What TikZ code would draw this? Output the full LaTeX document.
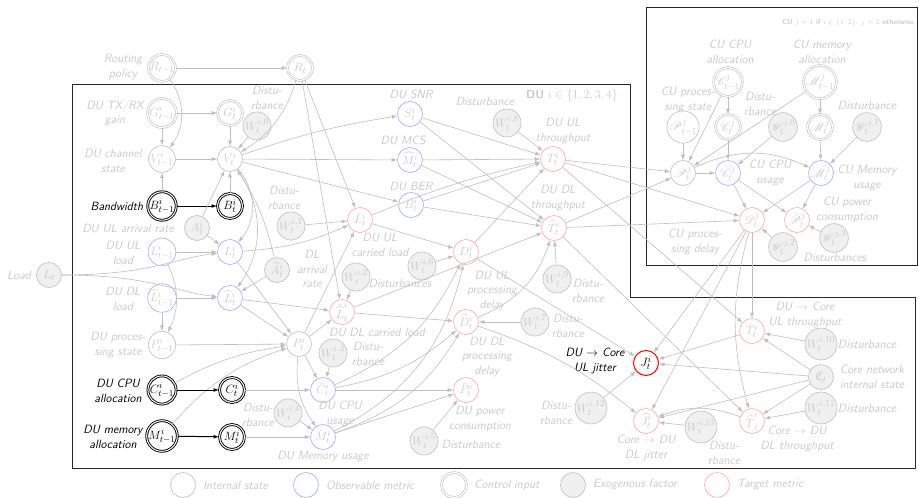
\documentclass[tikz,border=0pt]{standalone}
\usepackage{xcolor}
\usepackage{amssymb}
\usepackage{mathrsfs}
\usepackage{tikz}
\usetikzlibrary{arrows.meta,positioning}

\colorlet{faint}{gray!50}
\colorlet{faintText}{gray!42}
\colorlet{obsBlue}{blue!35}
\colorlet{tgtRed}{red!35}
\colorlet{exoFill}{gray!12}

\tikzset{
  var/.style={circle, draw=faint, minimum size=25pt, inner sep=0pt, text=faintText, line width=0.6pt, font=\fontsize{12.5}{13}\selectfont},
  obsvar/.style={var, draw=obsBlue},
  ctrlvar/.style={var, double, double distance=1.3pt},
  exovar/.style={var, fill=exoFill},
  tgtvar/.style={var, draw=tgtRed},
  keyctrl/.style={var, draw=black, text=black, line width=0.9pt, double, double distance=1pt},
  keytgt/.style={var, draw=red, text=black, line width=1pt},
  desc/.style={text=faintText, align=center, inner sep=1pt, font=\fontsize{12}{14.5}\selectfont\sffamily\itshape},
  keydesc/.style={desc, text=black},
  link/.style={draw=faint, line width=0.6pt, -{Latex[length=5.5pt,width=4pt]}},
  keylink/.style={draw=black, line width=1pt, -{Latex[length=5.5pt,width=4pt]}},
}

\begin{document}
\begin{tikzpicture}[x=1pt,y=-1pt]
\useasboundingbox (0,0) rectangle (919,498);

\draw[line width=0.9pt, black!85] (72,84) -- (630,84) -- (630,297) -- (915,297) -- (915,468) -- (72,468) -- cycle;
\draw[line width=0.9pt, black!85] (646,7) rectangle (917,265);
\node[text=faintText, font=\fontsize{11.5}{13}\selectfont\sffamily] (duTitle) at (572,95) {\textbf{DU} $i \in \{1,2,3,4\}$};
\node[text=faintText, font=\fontsize{7.2}{8}\selectfont\sffamily] (cuTitle) at (849,23) {\textbf{CU} $j=1$ \textbf{if} $i \in \{1,2\}$. $j=2$ \textbf{otherwise.}};

% DU variables
\node[ctrlvar] (r0) at (162,68) {$R_{t-1}$};
\node[ctrlvar] (r1) at (300,68) {$R_t$};
\node[ctrlvar] (g0) at (162,113) {$G^i_{t-1}$};
\node[ctrlvar] (g1) at (230,113) {$G^i_t$};
\node[var] (v0) at (162,159) {$V^i_{t-1}$};
\node[var] (v1) at (230,159) {$V^i_t$};
\node[exovar] (w0) at (257,126) {$W^{i,0}_t$};
\node[keyctrl] (b0) at (162,206) {$B^i_{t-1}$};
\node[keyctrl] (b1) at (230,206) {$B^i_t$};
\node[exovar] (a1) at (197,228) {$A^i_t$};
\node[obsvar] (l0) at (162,252) {$L^i_{t-1}$};
\node[obsvar] (l1) at (230,252) {$L^i_t$};
\node[exovar] (load) at (49,275) {$L_t$};
\node[obsvar] (hl0) at (162,298) {$\widehat{L}^i_{t-1}$};
\node[obsvar] (hl1) at (230,298) {$\widehat{L}^i_t$};
\node[exovar] (ha1) at (277,270) {$\widehat{A}^i_t$};
\node[exovar] (w1) at (291,226) {$W^{i,1}_t$};
\node[tgtvar] (bl1) at (360,220) {$\bar{L}^i_t$};
\node[tgtvar] (bhl1) at (342,312) {$\bar{\widehat{L}}^i_t$};
\node[exovar] (w2) at (356,277) {$W^{i,2}_t$};
\node[var] (p0) at (162,345) {$P^i_{t-1}$};
\node[var] (p1) at (299,344) {$P^i_t$};
\node[exovar] (w3) at (333,353) {$W^{i,3}_t$};
\node[keyctrl] (c0) at (162,390) {$C^i_{t-1}$};
\node[keyctrl] (c1) at (232,390) {$C^i_t$};
\node[obsvar] (bc1) at (323,390) {$\bar{C}^i_t$};
\node[exovar] (w4) at (288,413) {$W^{i,4}_t$};
\node[keyctrl] (m0) at (162,436) {$M^i_{t-1}$};
\node[keyctrl] (m1) at (232,437) {$M^i_t$};
\node[obsvar] (bm1) at (323,437) {$\bar{M}^i_t$};
\node[obsvar] (s1) at (410,114) {$S^i_t$};
\node[obsvar] (hm1) at (410,160) {$\widehat{M}^i_t$};
\node[obsvar] (bb1) at (411,205) {$\bar{B}^i_t$};
\node[exovar] (w6) at (422,266) {$W^{i,6}_t$};
\node[tgtvar] (d1) at (466,252) {$D^i_t$};
\node[tgtvar] (hd1) at (466,322) {$\widehat{D}^i_t$};
\node[tgtvar] (bp1) at (466,390) {$\bar{P}^i_t$};
\node[exovar] (w5) at (424,441) {$W^{i,5}_t$};
\node[exovar] (w8) at (507,123) {$W^{i,8}_t$};
\node[tgtvar] (t1) at (553,159) {$T^i_t$};
\node[tgtvar] (ht1) at (554,228) {$\widehat{T}^i_t$};
\node[exovar] (w9) at (557,279) {$W^{i,9}_t$};
\node[exovar] (w7) at (535,322) {$W^{i,7}_t$};

% CU variables
\node[ctrlvar] (cc0) at (728,82) {$\mathscr{C}^j_{t-1}$};
\node[ctrlvar] (cm0) at (820,82) {$\mathscr{M}^j_{t-1}$};
\node[var] (cp0) at (683,127) {$\mathscr{P}^j_{t-1}$};
\node[ctrlvar] (cc1) at (728,127) {$\mathscr{C}^j_t$};
\node[exovar] (cw0) at (783,127) {$\mathscr{W}^{j,0}_t$};
\node[ctrlvar] (cm1) at (820,127) {$\mathscr{M}^j_t$};
\node[exovar] (cw1) at (867,127) {$\mathscr{W}^{j,1}_t$};
\node[var] (cp1) at (683,173) {$\mathscr{P}^j_t$};
\node[obsvar] (bcc1) at (728,173) {$\bar{\mathscr{C}}^j_t$};
\node[obsvar] (bcm1) at (821,173) {$\bar{\mathscr{M}}^j_t$};
\node[tgtvar] (cd1) at (752,220) {$\mathscr{D}^j_t$};
\node[tgtvar] (bcp1) at (797,220) {$\bar{\mathscr{P}}^j_t$};
\node[exovar] (cw2) at (783,247) {$\mathscr{W}^{j,2}_t$};
\node[exovar] (cw3) at (834,238) {$\mathscr{W}^{j,3}_t$};

% core variables
\node[tgtvar] (bt1) at (752,331) {$\bar{T}^i_t$};
\node[exovar] (w10) at (821,344) {$W^{i,10}_t$};
\node[exovar] (core) at (821,377) {$\mathfrak{C}_t$};
\node[exovar] (w11) at (821,408) {$W^{i,11}_t$};
\node[tgtvar] (bht1) at (752,421) {$\bar{\widehat{T}}^i_t$};
\node[exovar] (w13) at (701,427) {$W^{i,13}_t$};
\node[keytgt] (j1) at (646,363) {$J^i_t$};
\node[tgtvar] (hj1) at (646,421) {$\widehat{J}^i_t$};
\node[exovar] (w12) at (591,408) {$W^{i,12}_t$};

% descriptions
\node[desc] (dRouting) at (123,67) {Routing\\policy};
\node[desc] (dGain) at (115,113) {DU TX/RX\\gain};
\node[desc] (dChannel) at (113,161) {DU channel\\state};
\node[keydesc] (dBand) at (117,206) {Bandwidth};
\node[desc] (dArrival) at (128,228) {DU UL arrival rate};
\node[desc] (dUlLoad) at (123,253) {DU UL\\load};
\node[desc] (dLoad) at (19,275) {Load};
\node[desc] (dDlLoad) at (123,299) {DU DL\\load};
\node[desc] (dProc) at (118,345) {DU proces-\\sing state};
\node[keydesc] (dCpu) at (118,391) {DU CPU\\allocation};
\node[keydesc] (dMem) at (113,437) {DU memory\\allocation};
\node[desc] (dW0) at (267,98) {Distu-\\rbance};
\node[desc] (dSnr) at (411,94) {DU SNR};
\node[desc] (dMcs) at (403,140) {DU MCS};
\node[desc] (dBer) at (411,186) {DU BER};
\node[desc] (dW1) at (284,198) {Distu-\\rbance};
\node[desc] (dUlCarried) at (380,245) {DU UL\\carried load};
\node[desc] (dDlArrival) at (312,269) {DL\\arrival\\rate};
\node[desc] (dW2) at (400,283) {Disturbances};
\node[desc] (dDlCarried) at (377,332) {DU DL carried load};
\node[desc] (dW3) at (368,354) {Distu-\\rbance};
\node[desc] (dCpuUse) at (340,414) {DU CPU\\usage};
\node[desc] (dW4) at (258,415) {Distu-\\rbance};
\node[desc] (dMemUse) at (323,457) {DU Memory usage};
\node[desc] (dW8) at (485,101) {Disturbance};
\node[desc] (dUlThr) at (563,131) {DU UL\\throughput};
\node[desc] (dDlThr) at (558,198) {DU DL\\throughput};
\node[desc] (dUlDelay) at (492,291) {DU UL\\processing\\delay};
\node[desc] (dW9) at (588,291) {Distu-\\rbance};
\node[desc] (dW7) at (568,326) {Distu-\\rbance};
\node[desc] (dDlDelay) at (487,357) {DU DL\\processing\\delay};
\node[desc] (dPower) at (480,419) {DU power\\consumption};
\node[desc] (dW5) at (471,444) {Disturbance};
\node[keydesc] (dJitter) at (595,361) {DU $\rightarrow$ Core\\UL jitter};
\node[desc] (dW12) at (556,413) {Distu-\\rbance};
\node[desc] (dDlJitter) at (646,448) {Core $\rightarrow$ DU\\DL jitter};
\node[desc] (dW13) at (724,453) {Distu-\\rbance};
\node[desc] (dCoreUl) at (805,315) {DU $\rightarrow$ Core\\UL throughput};
\node[desc] (dW10) at (867,344) {Disturbance};
\node[desc] (dCore) at (872,377) {Core network\\internal state};
\node[desc] (dW11) at (867,408) {Disturbance};
\node[desc] (dCoreDl) at (797,439) {Core $\rightarrow$ DU\\DL throughput};
\node[desc] (dCuCpu) at (730,52) {CU CPU\\allocation};
\node[desc] (dCuMem) at (822,52) {CU memory\\allocation};
\node[desc] (dCuProc) at (688,100) {CU proces-\\sing state};
\node[desc] (dCw0) at (760,104) {Distu-\\rbance};
\node[desc] (dCw1) at (867,105) {Disturbance};
\node[desc] (dCuCpuUse) at (770,173) {CU CPU\\usage};
\node[desc] (dCuMemUse) at (867,178) {CU Memory\\usage};
\node[desc] (dCuPower) at (847,210) {CU power\\consumption};
\node[desc] (dCuDelay) at (695,242) {CU proces-\\sing delay};
\node[desc] (dCw23) at (835,257) {Disturbances};

% DU links
\draw[link] (r0) -- (r1);
\draw[link] (r0) to[bend left=35] (v0);
\draw[link] (g0) -- (g1);
\draw[link] (g0) -- (v0);
\draw[link] (g1) -- (v1);
\draw[link] (v0) -- (v1);
\draw[link] (r1) to[bend left=20] (v1);
\draw[link] (w0) -- (v1);
\draw[link] (r1) -- (bl1);
\draw[link] (r1) -- (bhl1);
\draw[link] (v1) to[bend left=5] (s1);
\draw[link] (v1) -- (hm1);
\draw[link] (v1) -- (bb1);
\draw[link] (b0) -- (v0);
\draw[link] (b1) -- (v1);
\draw[keylink] (b0) -- (b1);
\draw[link] (a1) -- (v1);
\draw[link] (a1) -- (l1);
\draw[link] (l0) -- (l1);
\draw[link] (load) .. controls (150,275) and (175,258) .. (l1);
\draw[link] (load) .. controls (150,275) and (175,292) .. (hl1);
\draw[link] (hl0) -- (hl1);
\draw[link] (hl0) -- (p0);
\draw[link] (l0) to[bend left=25] (p0);
\draw[link] (ha1) -- (hl1);
\draw[link] (ha1) to[bend right=10] (v1);
\draw[link] (v1) to[bend left=40] (l1);
\draw[link] (v1) to[bend left=35] (hl1);
\draw[link] (l1) to[bend right=10] (bl1);
\draw[link] (w1) -- (bl1);
\draw[link] (hl1) -- (bhl1);
\draw[link] (w2) -- (bhl1);
\draw[link] (l1) -- (p1);
\draw[link] (hl1) -- (p1);
\draw[link] (p0) -- (p1);
\draw[link] (c0) to[bend left=10] (p1);
\draw[link] (m0) to[bend left=15] (p1);
\draw[keylink] (c0) -- (c1);
\draw[keylink] (m0) -- (m1);
\draw[link] (p1) -- (bc1);
\draw[link] (p1) to[bend right=20] (bm1);
\draw[link] (w3) -- (bc1);
\draw[link] (w4) -- (bm1);
\draw[link] (c1) -- (bc1);
\draw[link] (m1) -- (bm1);
\draw[link] (p1) -- (bl1);
\draw[link] (p1) -- (bhl1);
\draw[link] (bc1) to[bend right=20] (d1);
\draw[link] (bc1) to[bend right=15] (hd1);
\draw[link] (bc1) -- (bp1);
\draw[link] (bm1) to[bend right=25] (d1);
\draw[link] (bm1) to[bend right=20] (hd1);
\draw[link] (bm1) -- (bp1);
\draw[link] (w5) -- (bp1);
\draw[link] (bl1) -- (d1);
\draw[link] (bhl1) -- (hd1);
\draw[link] (w6) -- (d1);
\draw[link] (bl1) to[bend left=5] (t1);
\draw[link] (bhl1) -- (ht1);
\draw[link] (s1) -- (t1);
\draw[link] (s1) -- (ht1);
\draw[link] (hm1) -- (t1);
\draw[link] (hm1) -- (ht1);
\draw[link] (bb1) -- (t1);
\draw[link] (bb1) -- (ht1);
\draw[link] (w8) -- (t1);
\draw[link] (w9) -- (ht1);
\draw[link] (d1) -- (t1);
\draw[link] (hd1) to[bend right=25] (ht1);
\draw[link] (w7) -- (hd1);
\draw[link] (d1) -- (j1);
\draw[link] (hd1) to[bend left=10] (hj1);

% CU links
\draw[link] (t1) -- (cp1);
\draw[link] (t1) -- (cd1);
\draw[link] (ht1) -- (cp1);
\draw[link] (ht1) -- (cd1);
\draw[link] (cp0) -- (cp1);
\draw[link] (cc0) -- (cc1);
\draw[link] (cc0) -- (cp1);
\draw[link] (cm0) -- (cm1);
\draw[link] (cm0) -- (cp1);
\draw[link] (cc1) -- (bcc1);
\draw[link] (cm1) -- (bcm1);
\draw[link] (cw0) -- (bcc1);
\draw[link] (cw1) -- (bcm1);
\draw[link] (cp1) -- (bcc1);
\draw[link] (cp1) to[bend left=25] (bcm1);
\draw[link] (bcc1) -- (cd1);
\draw[link] (bcc1) -- (bcp1);
\draw[link] (bcm1) -- (cd1);
\draw[link] (bcm1) -- (bcp1);
\draw[link] (cw2) -- (cd1);
\draw[link] (cw3) -- (bcp1);

% core links
\draw[link] (t1) -- (bt1);
\draw[link] (ht1) -- (bht1);
\draw[link] (cd1) -- (bt1);
\draw[link] (cd1) -- (j1);
\draw[link] (cd1) -- (hj1);
\draw[link] (cd1) to[bend right=15] (bht1);
\draw[link] (core) -- (bt1);
\draw[link] (core) -- (j1);
\draw[link] (core) -- (hj1);
\draw[link] (core) -- (bht1);
\draw[link] (w10) -- (bt1);
\draw[link] (w11) -- (bht1);
\draw[link] (w12) -- (j1);
\draw[link] (w13) -- (hj1);
\draw[link] (bt1) -- (j1);
\draw[link] (bht1) to[bend right=20] (hj1);

% legend
\node[var] (kState) at (183,485) {};
\node[desc, right=6pt of kState] (kStateTxt) {Internal state};
\node[obsvar] (kObs) at (306,485) {};
\node[desc, right=6pt of kObs] (kObsTxt) {Observable metric};
\node[ctrlvar] (kCtrl) at (454,485) {};
\node[desc, right=6pt of kCtrl] (kCtrlTxt) {Control input};
\node[exovar] (kExo) at (573,485) {};
\node[desc, right=6pt of kExo] (kExoTxt) {Exogenous factor};
\node[tgtvar] (kTgt) at (717,485) {};
\node[desc, right=6pt of kTgt] (kTgtTxt) {Target metric};
\end{tikzpicture}
\end{document}
